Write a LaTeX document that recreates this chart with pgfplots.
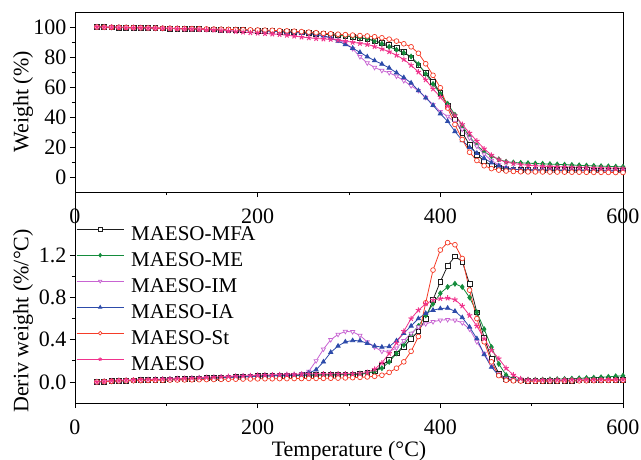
\documentclass[border=0pt]{standalone}
\usepackage{fontspec}
\setmainfont{Liberation Serif}
\usepackage{pgfplots}
\usepackage{pgfplotstable}
\pgfplotsset{compat=1.18}
\definecolor{cMFA}{RGB}{30,30,30}
\definecolor{cME}{RGB}{20,140,60}
\definecolor{cIM}{RGB}{200,100,210}
\definecolor{cIA}{RGB}{45,75,170}
\definecolor{cSt}{RGB}{245,60,40}
\definecolor{cMA}{RGB}{240,50,140}

\pgfplotstableread{
T mfa me im ia st ma
24 100 100 100 100 100 100
32 99.9 99.9 99.9 99.9 99.9 99.9
40 99.8 99.8 99.8 99.8 99.8 99.8
48 99.7 99.7 99.7 99.7 99.8 99.7
56 99.6 99.6 99.6 99.6 99.7 99.6
64 99.5 99.5 99.5 99.5 99.6 99.5
72 99.4 99.4 99.4 99.4 99.5 99.4
80 99.3 99.3 99.3 99.3 99.4 99.3
88 99.2 99.2 99.2 99.2 99.3 99.2
96 99.1 99.1 99.1 99.1 99.2 99.1
104 99.0 99.0 99.0 99.0 99.1 99.0
112 98.9 98.9 98.9 98.9 99.0 98.9
120 98.8 98.8 98.8 98.8 98.9 98.7
128 98.7 98.7 98.7 98.7 98.9 98.6
136 98.6 98.6 98.6 98.6 98.8 98.4
144 98.5 98.5 98.5 98.5 98.7 98.2
152 98.4 98.4 98.4 98.4 98.6 98.0
160 98.3 98.3 98.2 98.3 98.5 97.7
168 98.2 98.2 98.1 98.2 98.4 97.4
176 98.1 98.1 98.0 98.1 98.3 97.0
184 98.0 98.0 97.9 97.9 98.2 96.6
192 97.8 97.9 97.7 97.8 98.1 96.2
200 97.6 97.8 97.5 97.6 98.0 95.9
208 97.4 97.6 97.3 97.4 97.9 95.6
216 97.2 97.4 97.1 97.2 97.8 95.3
224 97.0 97.2 96.9 96.9 97.6 95.0
232 96.8 97.0 96.6 96.6 97.4 94.5
240 96.6 96.8 96.3 96.3 97.2 93.9
248 96.4 96.5 96.0 96.0 96.9 93.3
256 96.0 96.2 95.5 95.6 96.6 92.8
264 95.6 95.9 94.8 95.0 96.2 92.3
272 95.2 95.5 93.8 94.2 95.8 92.0
280 94.8 95.0 92.6 92.8 95.5 91.8
288 94.4 94.6 91.2 90.6 95.2 91.3
296 94.0 94.2 89.5 88.4 94.9 90.6
304 93.5 93.6 85.5 85.9 94.6 89.8
312 92.8 92.9 80.2 83.1 94.3 89.1
320 92.0 92.2 76.0 80.2 94.0 88.4
328 90.9 90.5 73.0 77.6 93.5 87.0
336 89.4 88.8 71.0 75.3 92.8 85.4
344 87.9 86.8 69.5 72.7 91.9 83.5
352 86.3 84.8 67.2 69.5 90.6 81.2
360 83.5 82.8 64.2 66.3 88.8 78.4
368 79.5 80.3 60.8 62.7 86.8 74.5
376 74.5 75.2 57.6 57.6 82.5 70.0
384 69.5 68.8 53.0 52.8 75.5 64.8
392 63.5 62.0 48.3 47.8 67.8 58.7
400 56.0 55.5 43.6 42.2 59.5 53.3
408 47.5 48.8 40.4 37.1 46.0 47.3
416 38.5 41.5 36.4 30.4 35.0 41.0
424 29.5 34.2 31.8 24.3 25.0 35.0
432 21.5 26.9 26.0 19.8 16.5 29.3
440 15.0 21.0 20.5 15.9 11.0 24.0
448 10.5 16.8 15.2 12.4 7.5 18.8
456 7.8 13.8 11.0 9.5 5.6 14.6
464 6.3 11.8 8.0 7.4 4.6 11.6
472 5.5 10.2 6.2 6.0 4.0 9.9
480 5.1 9.7 5.2 5.2 3.7 9.0
488 4.9 9.4 4.8 4.8 3.5 8.3
496 4.8 9.2 4.6 4.6 3.4 7.8
504 4.8 9.0 4.5 4.5 3.4 7.4
512 4.75 8.8 4.45 4.45 3.35 7.2
520 4.7 8.6 4.4 4.4 3.3 7.0
528 4.7 8.4 4.4 4.35 3.3 6.8
536 4.65 8.2 4.35 4.3 3.25 6.7
544 4.6 8.0 4.3 4.25 3.2 6.5
552 4.6 7.8 4.25 4.2 3.2 6.4
560 4.55 7.6 4.2 4.15 3.15 6.3
568 4.5 7.4 4.2 4.1 3.1 6.1
576 4.5 7.2 4.15 4.05 3.1 6.0
584 4.45 7.1 4.1 4.0 3.05 5.9
592 4.4 6.9 4.05 3.95 3.0 5.8
600 4.4 6.8 4.0 3.9 3.0 5.7
}\tg

\pgfplotstableread{
T mfa me im ia st ma
24 0.000 0.000 0.000 0.000 0.000 0.000
32 0.004 0.003 0.004 0.004 0.003 0.005
40 0.008 0.006 0.008 0.008 0.006 0.010
48 0.011 0.009 0.011 0.011 0.009 0.013
56 0.013 0.011 0.013 0.013 0.011 0.016
64 0.015 0.013 0.015 0.015 0.012 0.018
72 0.017 0.015 0.017 0.017 0.013 0.020
80 0.019 0.017 0.019 0.019 0.014 0.022
88 0.021 0.019 0.021 0.021 0.015 0.024
96 0.023 0.021 0.023 0.023 0.016 0.026
104 0.025 0.023 0.025 0.025 0.017 0.028
112 0.027 0.025 0.027 0.027 0.018 0.030
120 0.029 0.027 0.029 0.029 0.019 0.033
128 0.031 0.029 0.031 0.031 0.020 0.036
136 0.033 0.031 0.033 0.033 0.021 0.039
144 0.035 0.033 0.035 0.035 0.022 0.042
152 0.037 0.035 0.037 0.037 0.023 0.045
160 0.040 0.038 0.040 0.040 0.024 0.048
168 0.043 0.041 0.043 0.043 0.025 0.051
176 0.046 0.044 0.046 0.046 0.026 0.054
184 0.049 0.047 0.049 0.049 0.027 0.057
192 0.052 0.050 0.052 0.052 0.028 0.060
200 0.055 0.053 0.055 0.055 0.029 0.063
208 0.057 0.055 0.057 0.057 0.030 0.065
216 0.059 0.057 0.059 0.059 0.030 0.067
224 0.061 0.059 0.061 0.061 0.031 0.069
232 0.062 0.060 0.062 0.062 0.031 0.071
240 0.063 0.061 0.064 0.064 0.032 0.072
248 0.064 0.062 0.075 0.068 0.032 0.073
256 0.065 0.063 0.100 0.085 0.033 0.074
264 0.066 0.064 0.200 0.115 0.033 0.074
272 0.067 0.065 0.310 0.190 0.034 0.075
280 0.068 0.066 0.400 0.280 0.035 0.075
288 0.069 0.067 0.450 0.340 0.036 0.076
296 0.070 0.068 0.478 0.380 0.038 0.076
304 0.072 0.070 0.475 0.392 0.040 0.077
312 0.075 0.074 0.440 0.390 0.043 0.080
320 0.082 0.082 0.380 0.365 0.047 0.090
328 0.100 0.100 0.330 0.340 0.053 0.120
336 0.155 0.130 0.290 0.330 0.063 0.180
344 0.210 0.190 0.290 0.335 0.090 0.270
352 0.270 0.270 0.320 0.390 0.130 0.370
360 0.330 0.350 0.390 0.460 0.190 0.480
368 0.410 0.450 0.460 0.530 0.290 0.600
376 0.480 0.530 0.520 0.600 0.430 0.680
384 0.600 0.630 0.550 0.650 0.750 0.740
392 0.780 0.740 0.570 0.680 1.060 0.775
400 0.950 0.840 0.585 0.695 1.250 0.790
408 1.100 0.900 0.590 0.700 1.320 0.795
416 1.190 0.930 0.585 0.670 1.300 0.780
424 1.140 0.900 0.560 0.610 1.170 0.720
432 0.930 0.800 0.500 0.520 0.870 0.630
440 0.660 0.660 0.380 0.410 0.600 0.530
448 0.420 0.500 0.270 0.260 0.380 0.410
456 0.220 0.330 0.160 0.140 0.190 0.300
464 0.080 0.170 0.075 0.060 0.060 0.220
472 0.030 0.065 0.035 0.020 0.015 0.130
480 0.018 0.030 0.020 0.013 0.010 0.065
488 0.014 0.022 0.015 0.011 0.008 0.030
496 0.012 0.020 0.012 0.010 0.007 0.020
504 0.011 0.020 0.011 0.010 0.007 0.017
512 0.011 0.022 0.011 0.010 0.007 0.017
520 0.012 0.024 0.012 0.011 0.008 0.017
528 0.012 0.026 0.012 0.011 0.008 0.018
536 0.013 0.028 0.013 0.012 0.009 0.018
544 0.013 0.031 0.013 0.012 0.009 0.019
552 0.014 0.034 0.014 0.013 0.010 0.019
560 0.015 0.037 0.015 0.014 0.011 0.020
568 0.016 0.040 0.015 0.015 0.012 0.020
576 0.017 0.044 0.016 0.016 0.013 0.021
584 0.018 0.048 0.017 0.017 0.014 0.021
592 0.019 0.053 0.017 0.018 0.015 0.022
600 0.020 0.058 0.018 0.018 0.015 0.022
}\dtg

\pgfplotsset{
  common/.style={
    scale only axis, width=548pt,
    xmin=0, xmax=600,
    xtick={0,200,400,600}, xticklabels={0,200,400,600},
    minor x tick num=1,
    tick align=outside, xtick pos=bottom, ytick pos=left,
    major tick length=5pt, minor tick length=3pt,
    tick style={black, line width=0.8pt},
    axis line style={line width=0.9pt},
    tick label style={font=\fontsize{22}{24}\selectfont},
    xticklabel style={yshift=-8pt},
    label style={font=\fontsize{22}{24}\selectfont},
    every axis plot/.append style={line width=0.8pt, mark size=2.4pt},
  },
  sMFA/.style={color=cMFA, mark=square*, mark options={fill=white, line width=0.7pt}},
  sME/.style={color=cME, mark=diamond*, mark options={fill=cME}},
  sIM/.style={color=cIM, mark=triangle*, mark options={rotate=180, fill=white, line width=0.7pt}},
  sIA/.style={color=cIA, mark=triangle*, mark options={fill=cIA}},
  sSt/.style={color=cSt, mark=*, mark options={fill=white, line width=0.7pt}},
  sMA/.style={color=cMA, mark=star, mark size=2.8pt, mark options={line width=1pt}},
}

\begin{document}
\begin{tikzpicture}
\useasboundingbox (-75pt,12pt) rectangle (566pt,-448pt);
\begin{axis}[common, name=top, at={(0pt,0pt)}, anchor=north west, height=180pt,
  ymin=-10, ymax=110, ytick={0,20,40,60,80,100}, yticklabels={0,20,40,60,80,100},
  minor y tick num=1,
  ylabel={Weight (\%)},
  ylabel style={at={(axis description cs:-0.0949,0.5)}, anchor=center}]
\addplot[sMFA] table[x=T,y=mfa]{\tg};
\addplot[sME] table[x=T,y=me]{\tg};
\addplot[sIM] table[x=T,y=im]{\tg};
\addplot[sIA] table[x=T,y=ia]{\tg};
\addplot[sSt] table[x=T,y=st]{\tg};
\addplot[sMA] table[x=T,y=ma]{\tg};
\end{axis}
\begin{axis}[common, at={(top.south west)}, anchor=north west, height=211pt,
  ymin=-0.2, ymax=1.8, ytick={0,0.4,0.8,1.2}, yticklabels={0.0,0.4,0.8,1.2},
  minor y tick num=1,
  ylabel={Deriv weight (\%/°C)},
  ylabel style={at={(axis description cs:-0.0949,0.389)}, anchor=center},
  xlabel={Temperature (°C)},
  xlabel style={at={(axis description cs:0.5,-0.228)}, anchor=center},
  legend cell align=left,
  legend image code/.code={\draw[mark repeat=2,mark phase=2,#1] plot coordinates {(0pt,6pt) (23.5pt,6pt) (47pt,6pt)};},
  legend image post style={mark size=1.8pt},
  legend style={at={(axis description cs:0.002,0.853)}, anchor=north west,
    draw=none, fill=none, inner sep=0pt, row sep=2pt, column sep=5pt,
    font=\fontsize{21}{21}\selectfont,
    nodes={inner sep=2pt, text depth=4.5pt, text height=15.5pt}}]
\addplot[sMFA] table[x=T,y=mfa]{\dtg};
\addlegendentry{MAESO-MFA}
\addplot[sME] table[x=T,y=me]{\dtg};
\addlegendentry{MAESO-ME}
\addplot[sIM] table[x=T,y=im]{\dtg};
\addlegendentry{MAESO-IM}
\addplot[sIA] table[x=T,y=ia]{\dtg};
\addlegendentry{MAESO-IA}
\addplot[sSt] table[x=T,y=st]{\dtg};
\addlegendentry{MAESO-St}
\addplot[sMA] table[x=T,y=ma]{\dtg};
\addlegendentry{MAESO}
\end{axis}
\end{tikzpicture}
\end{document}
